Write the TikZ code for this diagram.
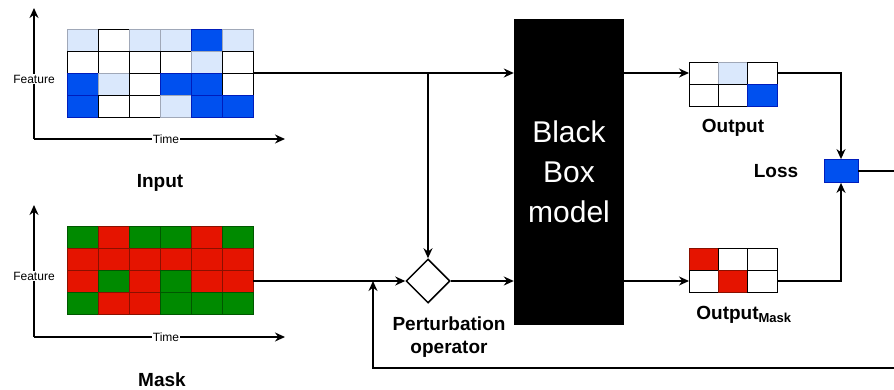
\documentclass[tikz,border=0pt]{standalone}
\usepackage{fontspec}
\setmainfont{Liberation Sans}
\usetikzlibrary{arrows.meta,positioning,shapes.geometric,calc}
\definecolor{lightblue}{HTML}{DAE8FC}
\definecolor{lightblueline}{HTML}{A0A8B8}
\definecolor{cellblue}{HTML}{0050EF}
\definecolor{cellblueline}{HTML}{001DBC}
\definecolor{cellgreen}{HTML}{008A00}
\definecolor{cellgreenline}{HTML}{005700}
\definecolor{cellred}{HTML}{E51400}
\definecolor{cellredline}{HTML}{8A1000}

\begin{document}
\begin{tikzpicture}[
    x=1pt, y=-1pt,
    cell/.style={rectangle, inner sep=0pt, outer sep=0pt, line width=0.8pt,
        minimum width=31pt, minimum height=22pt},
    cW/.style={cell, draw=black, fill=white},
    cL/.style={cell, draw=lightblueline, fill=lightblue},
    cB/.style={cell, draw=cellblueline, fill=cellblue},
    cG/.style={cell, draw=cellgreenline, fill=cellgreen},
    cR/.style={cell, draw=cellredline, fill=cellred},
    gridbox/.style={rectangle, inner sep=0pt, outer sep=0pt},
    lbl/.style={font=\fontsize{19}{23}\selectfont\bfseries, inner sep=0pt, align=center},
    axlbl/.style={font=\fontsize{12}{14}\selectfont, fill=white, inner sep=1pt},
    conn/.style={line width=1.5pt},
    >={Stealth[length=10pt,width=9pt]}
]
\useasboundingbox (0,0) rectangle (894,390);

% input series
\node[gridbox, minimum width=186pt, minimum height=88pt] (input) at (160,73) {};
\foreach \row [count=\r from 0] in {{L,W,L,L,B,L},{W,W,W,W,L,W},{B,L,W,B,B,W},{B,W,W,L,B,B}} {
    \foreach \c [count=\k from 0] in \row
        \node[c\c] (input-\r-\k) at ($(input.north west)+(15.5+31*\k,11+22*\r)$) {};
}
\coordinate (in-o) at (34,139);
\coordinate (in-y) at (34,8);
\coordinate (in-x) at (285,139);
\draw[conn, ->] (in-o) -- (in-y);
\draw[conn, ->] (in-o) -- (in-x);
\node[axlbl] (in-feat) at (34,79) {Feature};
\node[axlbl] (in-time) at (166,139) {Time};
\node[lbl, anchor=base] (in-lbl) at (160,188) {Input};

% mask
\node[gridbox, minimum width=186pt, minimum height=88pt] (mask) at (160,270) {};
\foreach \row [count=\r from 0] in {{G,R,G,G,R,G},{R,R,R,R,R,R},{R,G,R,G,R,R},{G,R,R,G,G,G}} {
    \foreach \c [count=\k from 0] in \row
        \node[c\c] (mask-\r-\k) at ($(mask.north west)+(15.5+31*\k,11+22*\r)$) {};
}
\coordinate (mk-o) at (34,337);
\coordinate (mk-y) at (34,205);
\coordinate (mk-x) at (285,337);
\draw[conn, ->] (mk-o) -- (mk-y);
\draw[conn, ->] (mk-o) -- (mk-x);
\node[axlbl] (mk-feat) at (34,276) {Feature};
\node[axlbl] (mk-time) at (166,337) {Time};
\node[lbl, anchor=base] (mk-lbl) at (162,386) {Mask};

% perturbation and model
\node[diamond, draw, line width=1.5pt, fill=white, minimum size=44pt, inner sep=0pt] (pert) at (428,281) {};
\node[lbl, anchor=base] (pert-lbl) at (449,353) {Perturbation\\operator};
\node[fill=black, minimum width=110pt, minimum height=306pt, inner sep=0pt,
    text=white, align=center, font=\fontsize{30}{40}\selectfont] (bbox) at (569,172) {Black\\Box\\model};

% outputs
\node[gridbox, minimum width=88pt, minimum height=44pt] (out) at (733,84) {};
\foreach \row [count=\r from 0] in {{W,L,W},{W,W,B}} {
    \foreach \c [count=\k from 0] in \row
        \node[c\c, minimum width=29.33pt] (out-\r-\k) at ($(out.north west)+(14.67+29.33*\k,11+22*\r)$) {};
}
\node[lbl, anchor=base] (out-lbl) at (733,133) {Output};

\node[gridbox, minimum width=88pt, minimum height=44pt] (outm) at (733,270) {};
\foreach \row [count=\r from 0] in {{R,W,W},{W,R,W}} {
    \foreach \c [count=\k from 0] in \row
        \node[c\c, minimum width=29.33pt] (outm-\r-\k) at ($(outm.north west)+(14.67+29.33*\k,11+22*\r)$) {};
}
\node[lbl, anchor=base] (outm-lbl) at (744,319) {Output\textsubscript{\fontsize{13}{15}\selectfont Mask}};

\node[rectangle, draw=cellblueline, fill=cellblue, line width=0.8pt, minimum width=34pt, minimum height=23pt, inner sep=0pt] (loss) at (841,171) {};
\node[lbl, anchor=base] (loss-lbl) at (776,178) {Loss};
\coordinate (loss-r) at (894,171);
\coordinate (fb-r) at (894,368);
\coordinate (fb-in) at (373,281);

\draw[conn, ->] (input.east) -- (input.east -| bbox.west);
\draw[conn, ->] (input.east -| pert.north) -- (pert.north);
\draw[conn, ->] (mask.east |- pert.west) -- (pert.west);
\draw[conn, ->] (pert.east) -- (pert.east -| bbox.west);
\draw[conn, ->] (bbox.east |- out-0-0) -- (out.west |- out-0-0);
\draw[conn, ->] (bbox.east |- outm-1-0) -- (outm.west |- outm-1-0);
\draw[conn, ->] (out.east |- out-0-2) -| (loss.north);
\draw[conn, ->] (outm.east |- outm-1-2) -| (loss.south);
\draw[conn] (loss.east) -- (loss-r);
\draw[conn, ->] (fb-r) -| (fb-in);
\end{tikzpicture}
\end{document}
